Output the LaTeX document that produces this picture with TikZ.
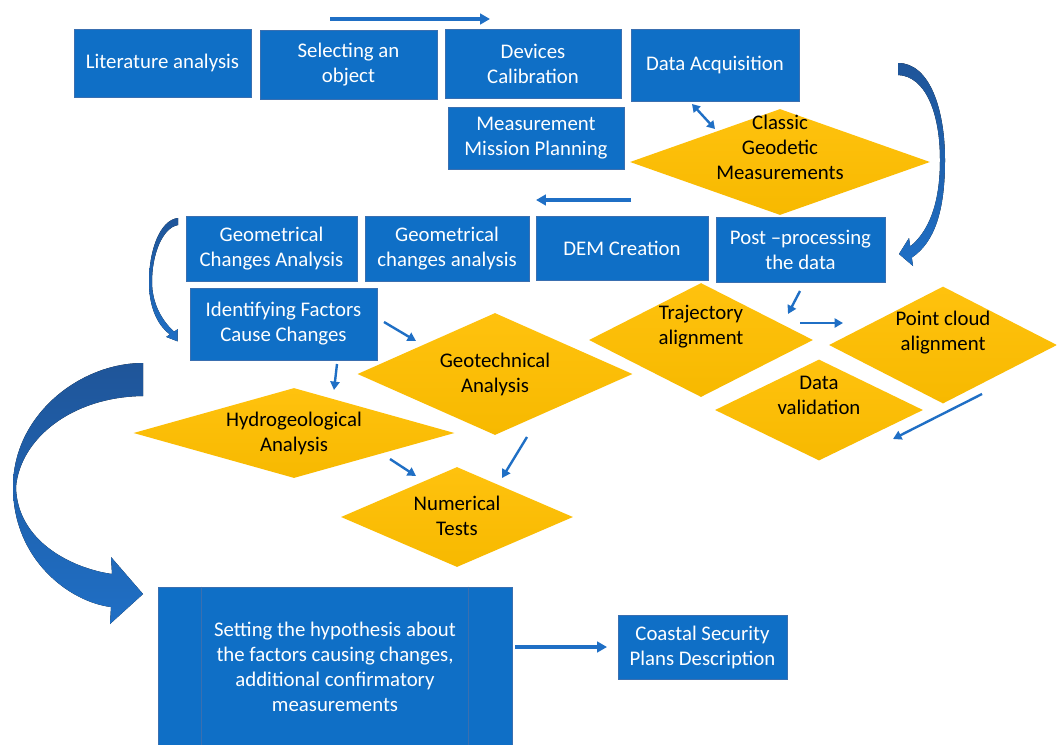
\documentclass[tikz,border=0pt]{standalone}
\usepackage{fontspec}
\setmainfont{Carlito}
\usepackage{tikz}
\usetikzlibrary{shapes.geometric, arrows.meta, calc}
\definecolor{azulCaja}{HTML}{0F6FC6}
\definecolor{bordeCaja}{HTML}{3A6FB0}
\definecolor{amarillo}{HTML}{FFC20E}
\definecolor{amarilloOsc}{HTML}{F7B900}
\definecolor{azulFlecha}{HTML}{1F6FC5}
\definecolor{azulOsc}{HTML}{1F5599}
% text of a diamond: no size of its own, raised by #1
\newcommand{\dtxt}[2][0pt]{\makebox[0pt]{\raisebox{#1}[0pt][0pt]{\begin{tabular}{@{}c@{}}#2\end{tabular}}}}

\begin{document}
\begin{tikzpicture}[x=0.025cm, y=-0.025cm, font=\fontsize{14.8}{17.8}\selectfont, >=Triangle,
        blk/.style 2 args={draw=bordeCaja, line width=0.6pt, fill=azulCaja, text=white,
            align=center, inner sep=2pt, minimum width=#1*0.025cm, minimum height=#2*0.025cm},
        dia/.style 2 args={diamond, top color=amarillo, bottom color=amarilloOsc,
            text=black, inner sep=0pt, minimum width=#1*0.025cm, minimum height=#2*0.025cm},
        flow/.style={-{Triangle[length=6pt,width=6.5pt]}, line width=1.7pt, azulFlecha},
        bigflow/.style={-{Triangle[length=7pt,width=7.5pt]}, line width=2.3pt, azulFlecha},
        curva/.style={top color=azulOsc, bottom color=azulFlecha}]
        \path[use as bounding box, fill=white] (0,0) rectangle (1057,744);
        % first row
        \node[blk={177}{68}] (lit) at (162.5,63)  {Literature analysis};
        \node[blk={177}{69}] (sel) at (348.5,64.5) {Selecting an\\object};
        \node[blk={176}{69}] (dev) at (533,63.5)  {Devices\\Calibration};
        \node[blk={168}{72}] (acq) at (715,65)    {Data Acquisition};
        \node[blk={176}{62}] (mmp) at (536,138)   {Measurement\\Mission Planning};
        \node[dia={300}{106}] (cgm) at (780,162)  {\dtxt[5pt]{Classic\\Geodetic\\Measurements}};
        % second row
        \node[blk={171}{65}] (gca)  at (271.5,248.5) {Geometrical\\Changes Analysis};
        \node[blk={164}{65}] (gcb)  at (447,248.5)   {Geometrical\\changes analysis};
        \node[blk={172}{64}] (dem)  at (622,248)     {DEM Creation};
        \node[blk={169}{65}] (post) at (800.5,249.5) {Post –processing\\the data};
        \node[blk={187}{72}] (ifc)  at (283.5,324)   {Identifying Factors\\Cause Changes};
        % analyses
        \node[dia={275}{122}] (geo) at (495,374) {\dtxt[-4pt]{Geotechnical\\Analysis}};
        \node[dia={321}{90}]  (hyd) at (294,433) {\dtxt[-4pt]{Hydrogeological\\Analysis}};
        \node[dia={232}{100}] (num) at (457,517) {\dtxt[-4pt]{Numerical\\Tests}};
        \node[dia={224}{114}] (tra) at (701,340) {\dtxt[5.5pt]{Trajectory\\alignment}};
        \node[dia={228}{117}] (pcl) at (943,345) {\dtxt[5pt]{Point cloud\\alignment}};
        \node[dia={208}{101}] (dva) at (819,410) {\dtxt[5.5pt]{Data\\validation}};
        % last row
        \node[blk={354}{160}] (hyp)   at (335,667)   {Setting the hypothesis about\\the factors causing changes,\\additional confirmatory\\measurements};
        \draw[bordeCaja, line width=0.6pt] ($(hyp.north west)+(44,0)$) -- ($(hyp.south west)+(44,0)$);
        \draw[bordeCaja, line width=0.6pt] ($(hyp.north east)+(-44,0)$) -- ($(hyp.south east)+(-44,0)$);
        \node[blk={169}{64}] (coast) at (702.5,647) {Coastal Security\\Plans Description};
        % straight arrows
        \coordinate (topA) at (330,19);   \coordinate (topB) at (490,19);
        \coordinate (dblA) at (692,104);  \coordinate (dblB) at (715,129);
        \coordinate (backA) at (631,200); \coordinate (backB) at (536,200);
        \coordinate (ifcA) at (384,322);  \coordinate (ifcB) at (416,341);
        \coordinate (ifcC) at (337,364);  \coordinate (ifcD) at (334,390);
        \coordinate (hydA) at (390,459);  \coordinate (hydB) at (416,476);
        \coordinate (geoA) at (527,437);  \coordinate (geoB) at (502,478);
        \coordinate (postA) at (800,291); \coordinate (postB) at (788,314);
        \coordinate (traA) at (800,323);  \coordinate (traB) at (843,323);
        \coordinate (pclA) at (982,394);  \coordinate (pclB) at (893,439);
        \coordinate (hypA) at (515,647);  \coordinate (hypB) at (607,647);
        \draw[bigflow] (topA) -- (topB);
        \draw[flow, {Triangle[length=5.5pt,width=6.5pt]}-{Triangle[length=5.5pt,width=6.5pt]}] (dblA) -- (dblB);
        \draw[bigflow] (backA) -- (backB);
        \draw[flow] (ifcA) -- (ifcB);
        \draw[flow] (ifcC) -- (ifcD);
        \draw[flow] (hydA) -- (hydB);
        \draw[flow] (geoA) -- (geoB);
        \draw[flow] (postA) -- (postB);
        \draw[flow] (traA) -- (traB);
        \draw[flow] (pclA) -- (pclB);
        \draw[bigflow] (hypA) -- (hypB);
        % curved block arrows
        \fill[curva] (898,63) .. controls (930,63) and (945,110) .. (945,160)
            .. controls (945,210) and (935,242) .. (911.8,257.6)
            -- (913,266) -- (899,254) -- (909,238) -- (910.2,246.4)
            .. controls (928,232) and (940,205) .. (940,160)
            .. controls (940,112) and (925,76) .. (898,75) -- cycle;
        \fill[curva] (178,218) .. controls (160,220) and (149,250) .. (149,282)
            .. controls (149,305) and (156,324) .. (169.9,334.4)
            -- (166.2,336.9) -- (177.5,341.3) -- (177.8,329.2) -- (174.1,331.6)
            .. controls (161,320) and (152,302) .. (152,282)
            .. controls (152,255) and (162,228) .. (178,225) -- cycle;
        \fill[curva] (143,363) .. controls (80,363) and (13,415) .. (13,487)
            .. controls (13,560) and (70,602) .. (111,607)
            -- (110,624) -- (143,594) -- (111,557) -- (112,574)
            .. controls (70,568) and (17,540) .. (16,487)
            .. controls (20,440) and (70,397) .. (143,396) -- cycle;
    \end{tikzpicture}
\end{document}
